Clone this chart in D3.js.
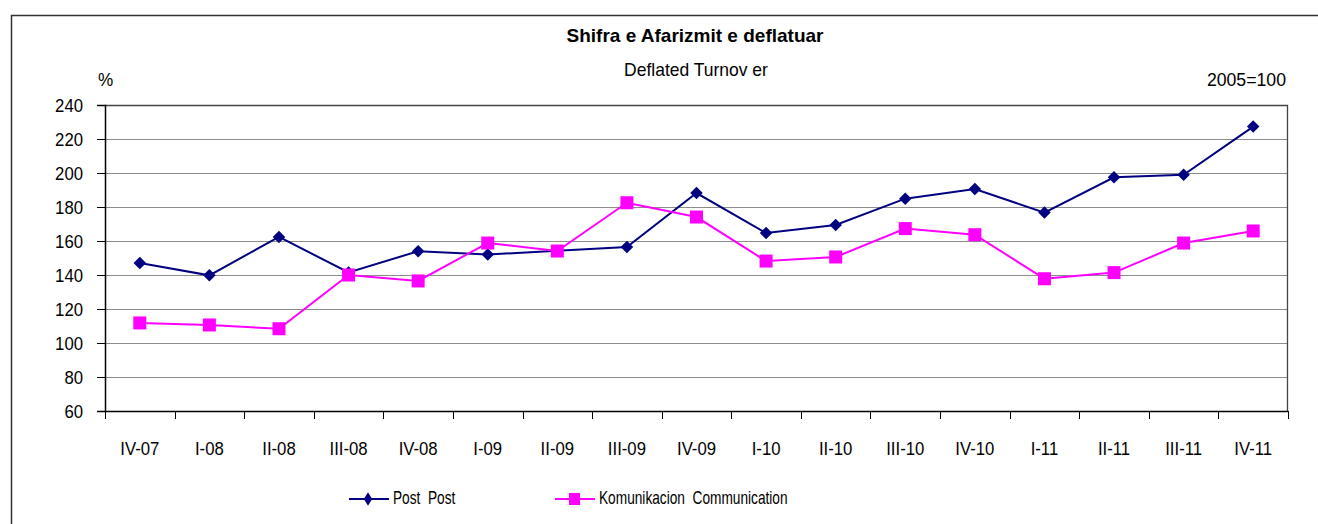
<!DOCTYPE html>
<html>
<head>
<meta charset="utf-8">
<script src="https://cdn.jsdelivr.net/npm/d3@7"></script>
<style>
  body { margin: 0; background: #fff; }
  text { font-family: "Liberation Sans Narrow", "Arial Narrow", "Liberation Sans", sans-serif; fill: #000; }
</style>
</head>
<body>
<div id="graph"></div>
<script>

    var quarters = ["IV-07", "I-08", "II-08", "III-08", "IV-08", "I-09", "II-09", "III-09", "IV-09",
        "I-10", "II-10", "III-10", "IV-10", "I-11", "II-11", "III-11", "IV-11"];
    var post = [147.1, 139.8, 162.4, 141.5, 154.0, 152.0, 154.3, 156.5, 188.2,
        164.7, 169.4, 184.9, 190.6, 176.7, 197.5, 199.0, 227.3];
    var communication = [111.8, 110.6, 108.4, 140.0, 136.5, 158.8, 154.1, 182.5, 174.1,
        148.2, 150.6, 167.3, 163.7, 137.8, 141.4, 158.8, 165.9];
    var yTicks = [60, 80, 100, 120, 140, 160, 180, 200, 220, 240];

    var W = 1318, H = 524;
    var margin = { top: 105, left: 105 },
        width = 1288 - margin.left,
        height = 411 - margin.top;

    // squeeze text horizontally to look like a narrow font
    function condense(sel, f) {
        sel.each(function () {
            var n = this.getComputedTextLength();
            d3.select(this)
                .attr("textLength", n * f)
                .attr("lengthAdjust", "spacingAndGlyphs");
        });
    }

    var root = d3.select("#graph")
        .append("svg")
        .attr("width", W)
        .attr("height", H);

    // outer chart border (left + top visible)
    root.append("path")
        .attr("d", "M11.5," + H + "V15.5H" + W)
        .attr("fill", "none")
        .attr("stroke", "#333")
        .attr("stroke-width", 1.5);

    root.append("text")
        .attr("x", 695).attr("y", 42)
        .attr("text-anchor", "middle")
        .style("font-size", "19px").style("font-weight", "bold")
        .text("Shifra e Afarizmit e deflatuar");

    root.append("text")
        .attr("x", 696).attr("y", 76)
        .attr("text-anchor", "middle")
        .style("font-size", "19px")
        .text("Deflated Turnov er")
        .call(condense, 0.92);

    root.append("text")
        .attr("x", 98).attr("y", 86)
        .style("font-size", "19px")
        .text("%")
        .call(condense, 0.9);

    root.append("text")
        .attr("x", 1286).attr("y", 86)
        .attr("text-anchor", "end")
        .style("font-size", "19px")
        .text("2005=100")
        .call(condense, 0.93);

    var svg = root.append("g")
        .attr("transform", "translate(" + margin.left + "," + margin.top + ")");

    var x = d3.scaleBand()
        .domain(quarters)
        .range([0, width]);

    var y = d3.scaleLinear()
        .domain([60, 240])
        .range([height, 0]);

    // gridlines
    svg.append("g")
        .selectAll("line")
        .data(yTicks.slice(1, -1))
        .enter()
        .append("line")
        .attr("x1", 0).attr("x2", width)
        .attr("y1", function (d) { return Math.round(y(d)) + 0.5; })
        .attr("y2", function (d) { return Math.round(y(d)) + 0.5; })
        .attr("stroke", "#8c8c8c")
        .attr("stroke-width", 1.2);

    // plot frame top + right
    svg.append("path")
        .attr("d", "M0,0.5H" + (width - 0.5) + "V" + height)
        .attr("fill", "none")
        .attr("stroke", "#444")
        .attr("stroke-width", 1.3);

    // y axis
    var yAxis = svg.append("g")
        .call(d3.axisLeft(y).tickValues(yTicks).tickSize(8).tickPadding(14));
    yAxis.select(".domain").attr("stroke", "#000").attr("stroke-width", 1.5);
    yAxis.selectAll(".tick line").attr("stroke", "#000");
    yAxis.selectAll("text").style("font-size", "19px").attr("fill", "#000").call(condense, 0.88);

    // x axis: ticks at category boundaries
    var xAxis = svg.append("g")
        .attr("transform", "translate(0," + height + ")")
        .call(d3.axisBottom(x).tickSize(0).tickPadding(31));
    xAxis.select(".domain").attr("stroke", "#000").attr("stroke-width", 1.5);
    xAxis.selectAll("text").style("font-size", "19px").attr("fill", "#000").call(condense, 0.88);

    svg.append("g")
        .selectAll("line")
        .data(d3.range(quarters.length + 1))
        .enter()
        .append("line")
        .attr("x1", function (i) { return Math.round(i * x.bandwidth()) + 0.5; })
        .attr("x2", function (i) { return Math.round(i * x.bandwidth()) + 0.5; })
        .attr("y1", height).attr("y2", height + 8)
        .attr("stroke", "#000");

    var cx = function (d, i) { return x(quarters[i]) + x.bandwidth() / 2; };

    var line = d3.line()
        .x(cx)
        .y(function (d) { return y(d); });

    // Post
    svg.append("path")
        .datum(post)
        .attr("d", line)
        .attr("fill", "none")
        .attr("stroke", "#000080")
        .attr("stroke-width", 2);

    var diamond = d3.symbol().type(d3.symbolDiamond2).size(100);

    svg.append("g")
        .selectAll("path")
        .data(post)
        .enter()
        .append("path")
        .attr("d", diamond)
        .attr("transform", function (d, i) { return "translate(" + cx(d, i) + "," + y(d) + ")"; })
        .attr("fill", "#000080");

    // Communication
    svg.append("path")
        .datum(communication)
        .attr("d", line)
        .attr("fill", "none")
        .attr("stroke", "#ff00ff")
        .attr("stroke-width", 2);

    svg.append("g")
        .selectAll("rect")
        .data(communication)
        .enter()
        .append("rect")
        .attr("x", function (d, i) { return cx(d, i) - 6.5; })
        .attr("y", function (d) { return y(d) - 6.5; })
        .attr("width", 13)
        .attr("height", 13)
        .attr("fill", "#ff00ff");

    // legend
    var legend = root.append("g");

    legend.append("line")
        .attr("x1", 349).attr("x2", 389).attr("y1", 499).attr("y2", 499)
        .attr("stroke", "#000080").attr("stroke-width", 2);
    legend.append("path")
        .attr("d", d3.symbol().type(d3.symbolDiamond2).size(80))
        .attr("transform", "translate(368,499) scale(0.75,1.2)")
        .attr("fill", "#000080");
    legend.append("text")
        .attr("x", 393).attr("y", 504)
        .style("font-size", "19px")
        .attr("xml:space", "preserve")
        .text("Post  Post")
        .call(condense, 0.72);

    legend.append("line")
        .attr("x1", 555).attr("x2", 595).attr("y1", 499).attr("y2", 499)
        .attr("stroke", "#ff00ff").attr("stroke-width", 2);
    legend.append("rect")
        .attr("x", 569).attr("y", 493).attr("width", 11).attr("height", 12)
        .attr("fill", "#ff00ff");
    legend.append("text")
        .attr("x", 599).attr("y", 504)
        .style("font-size", "19px")
        .attr("xml:space", "preserve")
        .text("Komunikacion  Communication")
        .call(condense, 0.72);

</script>
</body>
</html>
